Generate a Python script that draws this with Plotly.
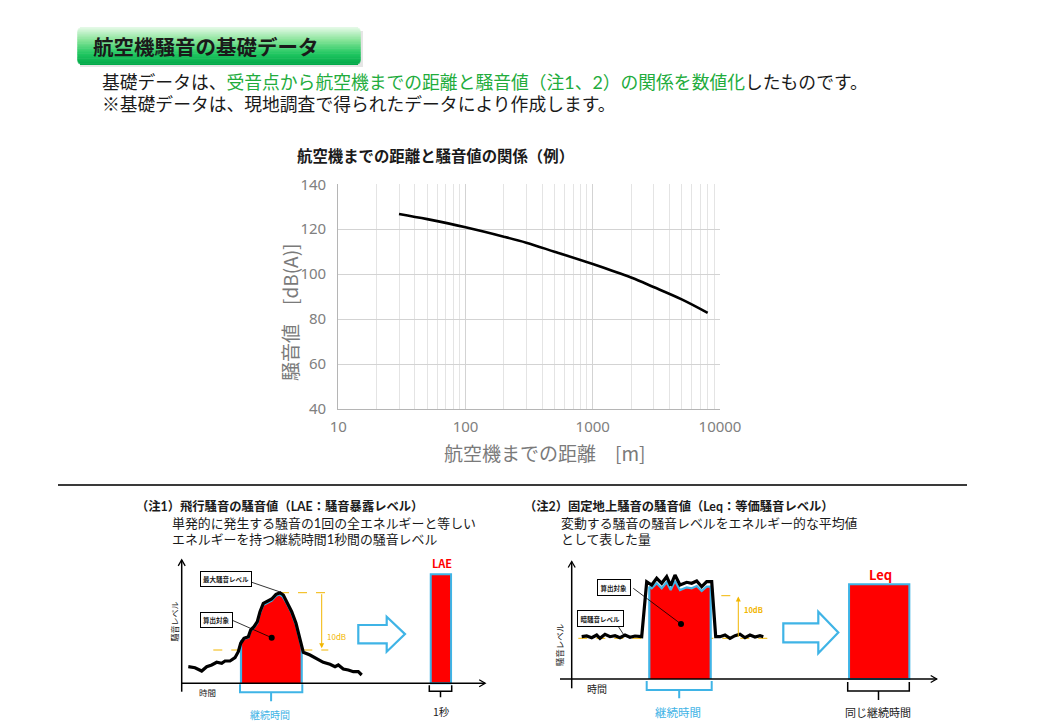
import plotly.graph_objects as go

W, H = 1041, 721
JP = "Noto Sans CJK JP, Noto Sans, sans-serif"
JPL = "Lato, Noto Sans CJK JP, sans-serif"

# ---------------- main chart data ----------------
distance_m = [30, 50, 100, 200, 300, 500, 1000, 2000, 3000, 5000, 8000]
noise_dba = [126.8, 124.5, 120.9, 116.7, 114.0, 110.0, 104.5, 98.5, 94.3, 88.8, 82.8]
x_tickvals = [10, 100, 1000, 10000]
x_ticktext = ["10", "100", "1000", "10000"]
x_minor_vals = [20, 30, 40, 50, 60, 70, 80, 90,
                200, 300, 400, 500, 600, 700, 800, 900,
                2000, 3000, 4000, 5000, 6000, 7000, 8000, 9000]
y_tickvals = [40, 60, 80, 100, 120, 140]

# ---------------- note 1 diagram (LAE) ----------------
lae_time = [6.6, 13.3, 20, 25, 30, 35, 40, 43.3, 48.3, 53.3, 56.6, 59, 62.3, 66.6, 69, 72.3,
            75.6, 78.3, 81.6, 85, 90, 94.3, 98.3, 101.6, 105, 110, 114.3, 117.6, 120, 121.6,
            128.3, 135, 141.6, 148.3, 153.3, 156.6, 161.6, 166.6, 171.6, 176.6, 180]
lae_level = [16.6, 15.6, 12.3, 16.6, 18.3, 21, 20, 22.3, 22.3, 25.6, 31.6, 40, 45, 46.6, 53.3, 56.6,
             61.6, 71.6, 80, 81.6, 84.3, 89, 90.6, 88.3, 81.6, 71.6, 60, 46.6, 36.6, 31,
             28.3, 25, 21, 19, 16.6, 18.3, 14.3, 13.3, 11.6, 11.6, 8.3]
lae_fill_time = [59.3, 59.3, 62.3, 66.6, 69, 72.3, 75.6, 78.3, 81.6, 85, 90, 94.3, 97.6, 101,
                 105, 110, 114.3, 117.6, 120, 120]
lae_fill_level = [0, 42.3, 44.3, 45.6, 52.3, 55.6, 60, 70, 78.3, 80, 82.6, 87.3, 89, 86.6,
                  80, 70, 58.3, 45, 35, 0]
lae_bar_time = [259.2]
lae_bar_level = [109]

# ---------------- note 2 diagram (Leq) ----------------
leq_time = [10, 15, 20, 25, 28.3, 33.3, 38.3, 43.3, 48.3, 53.3, 58.3, 63.3, 70,
            75, 80, 85, 90, 95, 99, 103.3, 108.3, 115, 120, 125, 130, 135, 140,
            144, 148.3, 153.3, 158.3, 163.3, 168.3, 173.3, 178.3, 183.3, 188.3, 191.6]
leq_level = [42.3, 43, 41.3, 44, 40.7, 44.7, 42.3, 43.3, 41.3, 44, 41.7, 43, 42.3,
             97.3, 94, 100.7, 95.7, 102.3, 93.3, 104, 94, 96.7, 95.7, 98, 92.3, 97.3, 97.3,
             42.3, 42.3, 44, 40.7, 43.3, 44.7, 41.3, 44, 42, 43.3, 42.3]
leq_fill_time = [77.6, 77.6, 80, 85, 90, 95, 99, 103.3, 108.3, 115, 120, 125, 130, 135, 139, 139]
leq_fill_level = [0, 92.3, 90.7, 95.7, 90.7, 96.7, 89, 98, 89, 91.7, 90.7, 93, 88, 92.3, 92.3, 0]
leq_bar_time = [307.5]
leq_bar_level = [94.7]


def P(x):
    return x / W


def Q(y):
    return 1 - y / H


RED = "#ff0000"
BLUE = "#3fb4e6"
ORANGE = "#f2b600"

fig = go.Figure()

# main chart
fig.add_trace(go.Scatter(x=distance_m, y=noise_dba, mode="lines",
                         line=dict(color="#000000", width=2.6, shape="spline"),
                         xaxis="x", yaxis="y", hoverinfo="skip"))

# diagram 1
fig.add_trace(go.Scatter(x=lae_fill_time, y=lae_fill_level, mode="lines", fill="toself",
                         fillcolor=RED, line=dict(color=BLUE, width=2.2),
                         xaxis="x2", yaxis="y2", hoverinfo="skip"))
fig.add_trace(go.Scatter(x=lae_time, y=lae_level, mode="lines",
                         line=dict(color="#000000", width=3.2),
                         xaxis="x2", yaxis="y2", hoverinfo="skip"))
fig.add_trace(go.Bar(x=lae_bar_time, y=lae_bar_level, width=[20.3],
                     marker=dict(color=RED, line=dict(color=BLUE, width=2)),
                     xaxis="x2", yaxis="y2", hoverinfo="skip"))
fig.add_trace(go.Scatter(x=[90], y=[45.6], mode="markers",
                         marker=dict(color="#000000", size=6),
                         xaxis="x2", yaxis="y2", hoverinfo="skip"))

# diagram 2
fig.add_trace(go.Scatter(x=leq_fill_time, y=leq_fill_level, mode="lines", fill="toself",
                         fillcolor=RED, line=dict(color=BLUE, width=2.2),
                         xaxis="x3", yaxis="y3", hoverinfo="skip"))
fig.add_trace(go.Scatter(x=leq_time, y=leq_level, mode="lines",
                         line=dict(color="#000000", width=3.2),
                         xaxis="x3", yaxis="y3", hoverinfo="skip"))
fig.add_trace(go.Bar(x=leq_bar_time, y=leq_bar_level, width=[60.3],
                     marker=dict(color=RED, line=dict(color=BLUE, width=2)),
                     xaxis="x3", yaxis="y3", hoverinfo="skip"))
fig.add_trace(go.Scatter(x=[109.3], y=[55], mode="markers",
                         marker=dict(color="#000000", size=6),
                         xaxis="x3", yaxis="y3", hoverinfo="skip"))

shapes = []
annotations = []

# ---------- header gradient box ----------
bx0, bx1, by0, by1, rad = 77.3, 360.7, 27.0, 64.5, 5.0
stops = [(0.0, (232, 250, 234)), (0.35, (135, 228, 152)), (0.7, (35, 200, 98)), (1.0, (0, 168, 72))]


def grad(t):
    for (t0, c0), (t1, c1) in zip(stops[:-1], stops[1:]):
        if t <= t1:
            f = (t - t0) / (t1 - t0)
            return "rgb(%d,%d,%d)" % tuple(round(a + (b - a) * f) for a, b in zip(c0, c1))
    return "rgb(%d,%d,%d)" % stops[-1][1]


# faint shadow
shapes.append(dict(type="path", xref="paper", yref="paper", layer="below",
                   path="M %f,%f L %f,%f L %f,%f L %f,%f Z" % (P(80), Q(31), P(363), Q(31), P(363), Q(67), P(80), Q(67)),
                   fillcolor="rgba(0,0,0,0.10)", line=dict(width=0)))
n = 30
hb = (by1 - by0) / n
for i in range(n):
    y0 = by0 + i * hb
    y1 = y0 + hb + 0.4
    d = min(i + 0.5, n - i - 0.5) * hb
    inset = 0.0
    if d < rad:
        inset = rad - (rad ** 2 - (rad - d) ** 2) ** 0.5
    shapes.append(dict(type="rect", xref="paper", yref="paper",
                       x0=P(bx0 + inset), x1=P(bx1 - inset), y0=Q(y1), y1=Q(y0),
                       fillcolor=grad((i + 0.5) / n), line=dict(width=0), layer="below"))
annotations.append(dict(xref="paper", yref="paper", x=P(91), y=Q(45.7), xanchor="left", yanchor="middle",
                        text="<b>航空機騒音の基礎データ</b>", showarrow=False,
                        font=dict(family=JP, size=20.5, color="#1a1a1a")))

# intro text (two lines)
GREEN = "#22ac3c"
annotations.append(dict(xref="paper", yref="paper", x=P(100), y=Q(82.5), xanchor="left", yanchor="middle",
                        text=("基礎データは、<span style='color:%s'>受音点から航空機までの距離と騒音値（注1、2）の関係を数値化</span>したものです。") % GREEN,
                        showarrow=False, font=dict(family=JPL, size=17.8, color="#1a1a1a")))
annotations.append(dict(xref="paper", yref="paper", x=P(100), y=Q(104.5), xanchor="left", yanchor="middle",
                        text="※基礎データは、現地調査で得られたデータにより作成します。",
                        showarrow=False, font=dict(family=JPL, size=17.8, color="#1a1a1a")))

# main chart title & axis titles
annotations.append(dict(xref="paper", yref="paper", x=P(295), y=Q(155), xanchor="left", yanchor="middle",
                        text="<b>航空機までの距離と騒音値の関係（例）</b>", showarrow=False,
                        font=dict(family=JP, size=15.4, color="#1a1a1a")))
annotations.append(dict(xref="paper", yref="paper", x=P(544), y=Q(452), xanchor="center", yanchor="middle",
                        text="航空機までの距離　[m]", showarrow=False,
                        font=dict(family=JP, size=19, color="#7a7a7a")))
annotations.append(dict(xref="paper", yref="paper", x=P(289.5), y=Q(312.5), xanchor="center", yanchor="middle",
                        text="騒音値　[dB(A)]", textangle=-90, showarrow=False,
                        font=dict(family=JP, size=19, color="#7a7a7a")))

# separator
shapes.append(dict(type="line", xref="paper", yref="paper", x0=P(58), x1=P(967), y0=Q(485), y1=Q(485),
                   line=dict(color="#3a3a3a", width=2)))

# lower texts
for x, y, txt_, bold, size in [
    (134, 506, "（注1）飛行騒音の騒音値（LAE：騒音暴露レベル）", True, 12.3),
    (170, 523.3, "単発的に発生する騒音の1回の全エネルギーと等しい", False, 12.9),
    (170, 538.8, "エネルギーを持つ継続時間1秒間の騒音レベル", False, 12.9),
    (522, 506, "（注2）固定地上騒音の騒音値（Leq：等価騒音レベル）", True, 12.3),
    (559, 523.3, "変動する騒音の騒音レベルをエネルギー的な平均値", False, 12.9),
    (559, 538.8, "として表した量", False, 12.9),
]:
    annotations.append(dict(xref="paper", yref="paper", x=P(x), y=Q(y), xanchor="left", yanchor="middle",
                            text=("<b>%s</b>" % txt_) if bold else txt_, showarrow=False,
                            font=dict(family=JPL, size=size, color="#1a1a1a")))


def ln(xr, yr, x0, y0, x1, y1, color="#000000", width=1.5, dash=None, layer="above"):
    d = dict(type="line", xref=xr, yref=yr, x0=x0, y0=y0, x1=x1, y1=y1,
             line=dict(color=color, width=width), layer=layer)
    if dash:
        d["line"]["dash"] = dash
    shapes.append(d)


def pth(xr, yr, path, color, width, fill=None, layer="above"):
    d = dict(type="path", xref=xr, yref=yr, path=path, line=dict(color=color, width=width), layer=layer)
    if fill:
        d["fillcolor"] = fill
    shapes.append(d)


def txt(xr, yr, x, y, text, size, color="#1a1a1a", angle=0, **kw):
    a = dict(xref=xr, yref=yr, x=x, y=y, text=text, showarrow=False, textangle=angle,
             font=dict(family=JP, size=size, color=color), xanchor="center", yanchor="middle")
    a.update(kw)
    annotations.append(a)


# ---------- diagram 1 decorations ----------
X, Y = "x2", "y2"
ln(X, Y, 0, -8.4, 0, 123.3)
pth(X, Y, "M -3.5,117.5 L 0,123.5 L 3.5,117.5", "#000000", 1.3)
ln(X, Y, 0, 0, 303.3, 0)
pth(X, Y, "M 297.5,-3.5 L 303.5,0 L 297.5,3.5", "#000000", 1.3)
ln(X, Y, 98.3, 90.6, 143.3, 90.6, ORANGE, 1, "dash", "below")
ln(X, Y, 31.6, 33.3, 146.6, 33.3, ORANGE, 1, "dash", "below")
annotations.append(dict(xref=X, yref=Y, axref=X, ayref=Y, x=140, y=35, ax=140, ay=90.6, text="",
                        showarrow=True, arrowhead=2, arrowsize=1, arrowwidth=1, arrowcolor=ORANGE))
txt(X, Y, 155, 47.3, "10dB", 8, ORANGE)
ln(X, Y, 68.3, 101.6, 97.6, 91.6, "#000000", 0.8)
ln(X, Y, 50, 63.3, 90, 45.6, "#000000", 0.8)
txt(X, Y, 44, 104, "<b>最大騒音レベル</b>", 6.5, bordercolor="#000000", borderwidth=1, borderpad=2, bgcolor="#ffffff")
txt(X, Y, 34.5, 63.6, "<b>算出対象</b>", 6.5, bordercolor="#000000", borderwidth=1, borderpad=2, bgcolor="#ffffff")
txt(X, Y, -7, 61.6, "騒音レベル", 8, angle=-90)
txt(X, Y, 26, -8.5, "時間", 8.5)
pth(X, Y, "M 58.3,-1 L 58.3,-9 L 120.6,-9 L 120.6,-1 M 89.4,-9 L 89.4,-18", BLUE, 2)
txt(X, Y, 88.3, -31, "継続時間", 10, BLUE)
pth(X, Y, "M 176.6,40 L 205,40 L 205,31.6 L 223.3,49.2 L 205,66.6 L 205,58.3 L 176.6,58.3 Z", BLUE, 2.2, "#ffffff")
txt(X, Y, 260, 120.5, "<b>LAE</b>", 11, RED)
pth(X, Y, "M 247.6,-2 L 247.6,-8 L 270,-8 L 270,-2 M 258.8,-8 L 258.8,-14", "#000000", 1.5)
txt(X, Y, 260, -28.3, "1秒", 10.5)

# ---------- diagram 2 decorations ----------
X, Y = "x3", "y3"
ln(X, Y, 0, -9.3, 0, 117.3)
pth(X, Y, "M -3.5,111.5 L 0,117.5 L 3.5,111.5", "#000000", 1.3)
ln(X, Y, -11.7, 0, 365, 0)
pth(X, Y, "M 359,-3.5 L 365,0 L 359,3.5", "#000000", 1.3)
ln(X, Y, 77.6, 83.3, 163.3, 83.3, ORANGE, 1, "dash", "below")
ln(X, Y, 6.6, 40.7, 200, 40.7, ORANGE, 1, "dash", "below")
annotations.append(dict(xref=X, yref=Y, axref=X, ayref=Y, x=166.6, y=82.5, ax=166.6, ay=40.7, text="",
                        showarrow=True, arrowhead=2, arrowsize=1, arrowwidth=1, arrowcolor=ORANGE))
txt(X, Y, 181.6, 69.7, "<b>10dB</b>", 7.5, ORANGE)
ln(X, Y, 61.6, 90.7, 109.3, 55, "#000000", 0.8)
ln(X, Y, 45, 55, 53.3, 42.3, "#000000", 0.8)
txt(X, Y, 42, 92, "<b>算出対象</b>", 6.5, bordercolor="#000000", borderwidth=1, borderpad=2.5, bgcolor="#ffffff")
txt(X, Y, 29.2, 61, "<b>暗騒音レベル</b>", 6.5, bordercolor="#000000", borderwidth=1, borderpad=2.5, bgcolor="#ffffff")
txt(X, Y, -12.4, 34, "騒音レベル", 8.5, angle=-90)
txt(X, Y, 25, -9.3, "時間", 10)
pth(X, Y, "M 75,-2 L 75,-11 L 140,-11 L 140,-2 M 107.5,-11 L 107.5,-19.3", BLUE, 2)
txt(X, Y, 106.6, -32.7, "継続時間", 11.5, BLUE)
pth(X, Y, "M 211.6,36.7 L 246.6,36.7 L 246.6,25.7 L 266.6,46.5 L 246.6,67.3 L 246.6,55.7 L 211.6,55.7 Z", BLUE, 2.2, "#ffffff")
txt(X, Y, 308.3, 104.7, "<b>Leq</b>", 13, RED)
pth(X, Y, "M 276,-3 L 276,-12 L 337.6,-12 L 337.6,-3 M 306.8,-12 L 306.8,-21", "#000000", 1.5)
txt(X, Y, 306.6, -32.7, "同じ継続時間", 11)

TICKFONT = dict(family="Noto Sans, Lato, sans-serif", size=15, color="#808080")

fig.update_layout(
    width=W, height=H, margin=dict(l=0, r=0, t=0, b=0, pad=0, autoexpand=False),
    paper_bgcolor="#ffffff", plot_bgcolor="#ffffff",
    showlegend=False, barmode="overlay",
    shapes=shapes, annotations=annotations,
    xaxis=dict(domain=[P(338.3), P(720)], type="log", range=[1, 4], anchor="y", automargin=False,
               tickmode="array", tickvals=x_tickvals, ticktext=x_ticktext,
               showgrid=True, gridcolor="#d3d3d3", gridwidth=1,
               minor=dict(tickmode="array", tickvals=x_minor_vals, showgrid=True,
                          gridcolor="#e4e4e4", gridwidth=1, ticks=""),
               showline=True, linecolor="#b5b5b5", linewidth=1.2, ticks="",
               zeroline=False, tickfont=TICKFONT, ticklabelstandoff=4),
    yaxis=dict(domain=[Q(409), Q(184.3)], range=[40, 140], anchor="x", automargin=False,
               tickmode="array", tickvals=y_tickvals,
               showgrid=True, gridcolor="#d3d3d3", gridwidth=1,
               showline=True, linecolor="#b5b5b5", linewidth=1.2, ticks="",
               zeroline=False, tickfont=TICKFONT, ticklabelstandoff=8),
    xaxis2=dict(domain=[P(150), P(500)], range=[-31.7, 318.3], anchor="y2", visible=False, automargin=False),
    yaxis2=dict(domain=[0, Q(555)], range=[-37.7, 128.3], anchor="x2", visible=False, automargin=False),
    xaxis3=dict(domain=[P(540), P(950)], range=[-31.7, 378.3], anchor="y3", visible=False, automargin=False),
    yaxis3=dict(domain=[0, Q(555)], range=[-42, 124], anchor="x3", visible=False, automargin=False),
)

fig.write_html("out.html",
               post_script="document.documentElement.style.overflow='hidden';"
                           "document.body.style.margin='0';document.body.style.overflow='hidden';")
